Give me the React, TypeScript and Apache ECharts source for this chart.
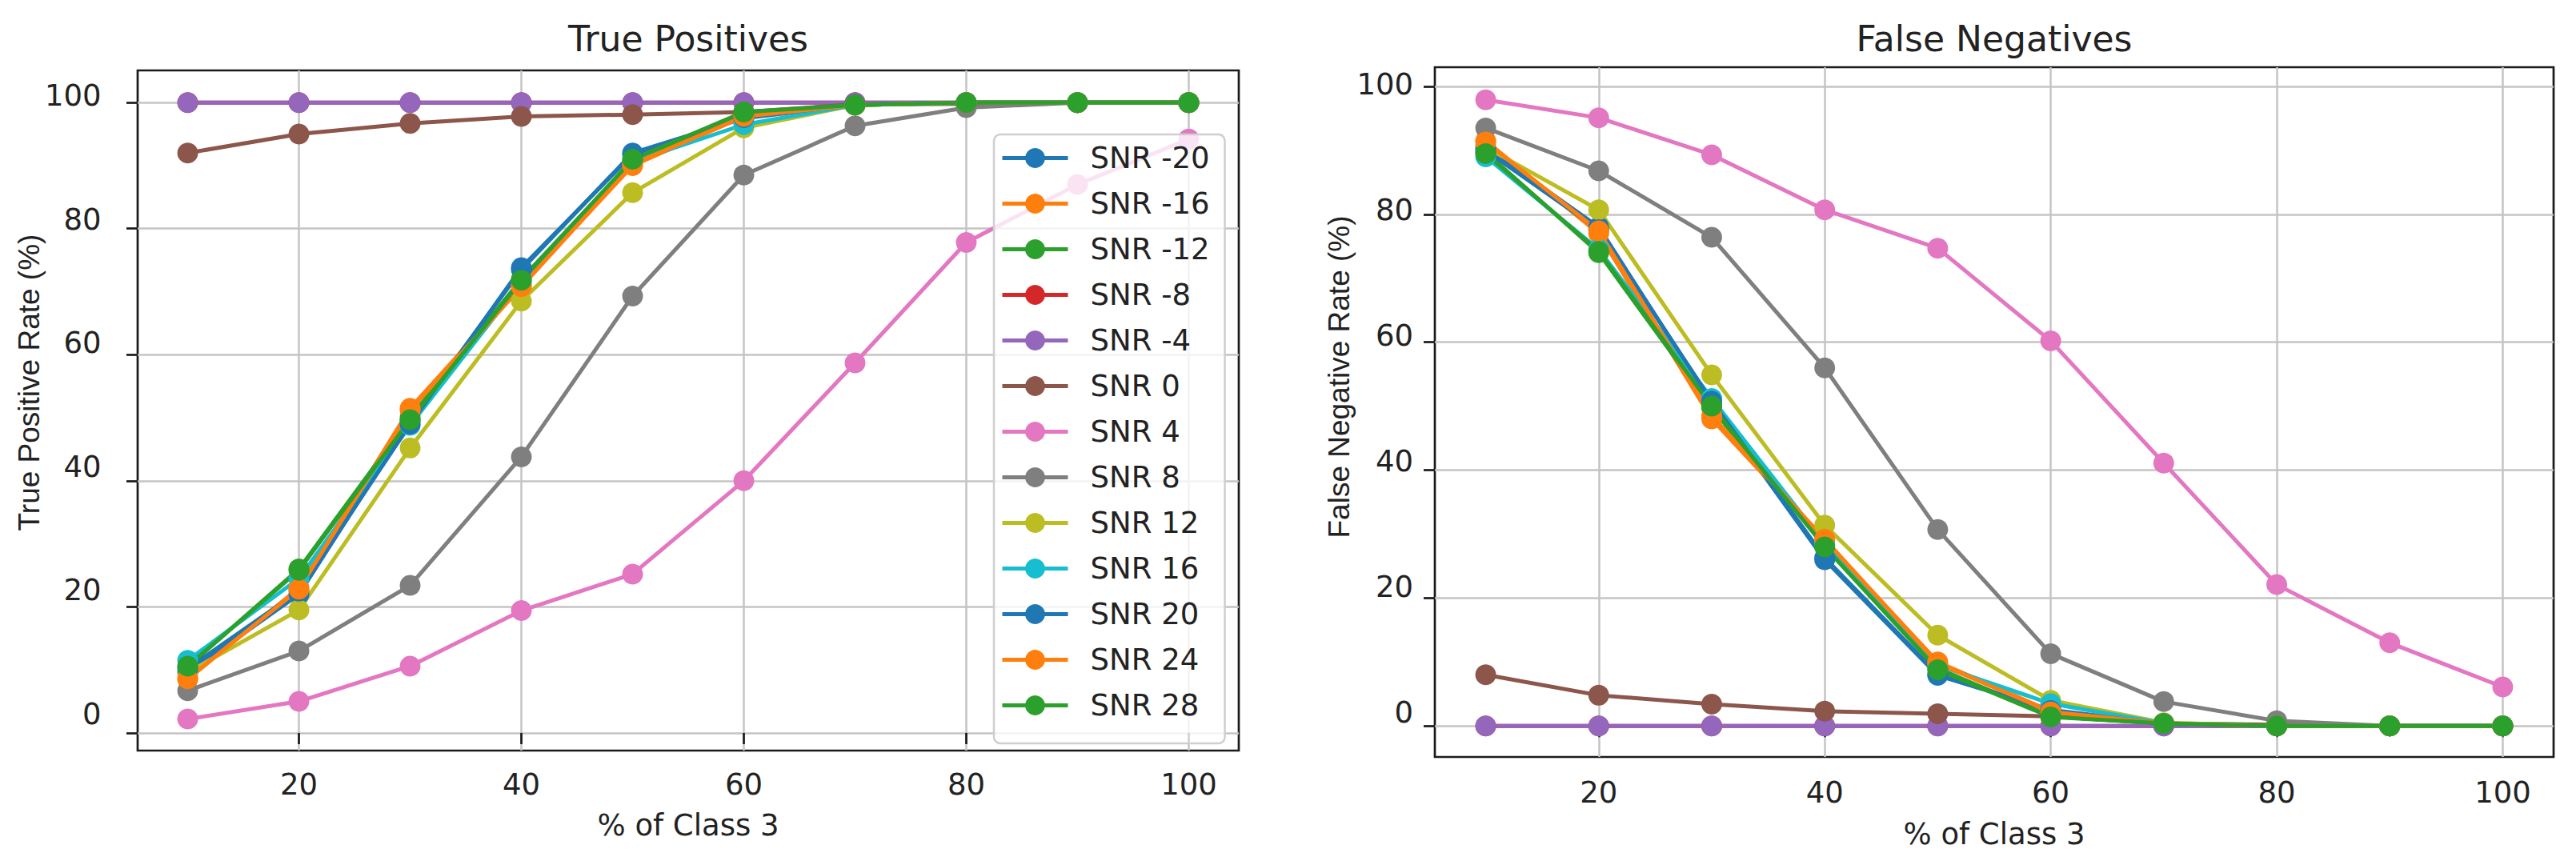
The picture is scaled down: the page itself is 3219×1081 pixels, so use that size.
import React, { useEffect, useRef } from "react";
import * as echarts from "echarts";

// ---- data ----
const xValues = [10, 20, 30, 40, 50, 60, 70, 80, 90, 100];
const xTickValues = [20, 40, 60, 80, 100];
const yTickValues = [0, 20, 40, 60, 80, 100];

const snrNames = [
  "SNR -20", "SNR -16", "SNR -12", "SNR -8", "SNR -4", "SNR 0", "SNR 4",
  "SNR 8", "SNR 12", "SNR 16", "SNR 20", "SNR 24", "SNR 28",
];

const colors = [
  "#1f77b4", "#ff7f0e", "#2ca02c", "#d62728", "#9467bd", "#8c564b", "#e377c2",
  "#7f7f7f", "#bcbd22", "#17becf", "#1f77b4", "#ff7f0e", "#2ca02c",
];

// True positive rate (%)
const tpM20 = [9.5, 22.0, 49.5, 73.5, 92.0, 97.5, 99.6, 100, 100, 100];
const tpM16 = [8.5, 23.0, 51.5, 71.0, 90.0, 97.8, 99.6, 100, 100, 100];
const tpM12 = [10.5, 26.0, 50.0, 72.0, 90.8, 98.4, 99.6, 100, 100, 100];
const tpM8 = [100, 100, 100, 100, 100, 100, 100, 100, 100, 100];
const tpM4 = [100, 100, 100, 100, 100, 100, 100, 100, 100, 100];
const tp0 = [92.0, 95.0, 96.7, 97.8, 98.1, 98.5, 99.7, 99.8, 100, 100];
const tp4 = [2.2, 5.0, 10.6, 19.4, 25.2, 40.0, 58.7, 77.8, 87.0, 94.2];
const tp8 = [6.7, 13.0, 23.4, 43.8, 69.3, 88.5, 96.3, 99.2, 100, 100];
const tp12 = [9.6, 19.5, 45.2, 68.5, 85.7, 96.0, 99.6, 100, 100, 100];
const tp16 = [11.5, 24.5, 48.8, 71.5, 90.6, 96.5, 99.6, 100, 100, 100];
const tp20 = [10.2, 22.5, 49.0, 73.8, 91.8, 97.6, 99.7, 100, 100, 100];
const tp24 = [8.6, 22.8, 51.2, 70.8, 90.2, 97.8, 99.6, 100, 100, 100];
const tp28 = [10.6, 25.8, 49.7, 71.8, 91.0, 98.5, 99.6, 100, 100, 100];

// False negative rate (%)
const fnM20 = [90.5, 78.0, 50.5, 26.0, 7.9, 2.5, 0.4, 0, 0, 0];
const fnM16 = [91.5, 77.0, 48.0, 29.0, 10.0, 2.3, 0.4, 0, 0, 0];
const fnM12 = [89.7, 74.0, 49.7, 28.2, 9.0, 1.5, 0.4, 0, 0, 0];
const fnM8 = [0, 0, 0, 0, 0, 0, 0, 0, 0, 0];
const fnM4 = [0, 0, 0, 0, 0, 0, 0, 0, 0, 0];
const fn0 = [8.0, 4.8, 3.4, 2.3, 1.9, 1.5, 0.4, 0.2, 0, 0];
const fn4 = [97.9, 95.1, 89.3, 80.7, 74.7, 60.2, 41.1, 22.1, 13.0, 6.1];
const fn8 = [93.5, 86.8, 76.4, 56.0, 30.7, 11.3, 3.8, 0.8, 0, 0];
const fn12 = [90.5, 80.7, 54.9, 31.4, 14.2, 4.0, 0.5, 0, 0, 0];
const fn16 = [89.0, 74.5, 51.2, 28.5, 9.5, 3.5, 0.4, 0, 0, 0];
const fn20 = [90.0, 77.6, 50.8, 26.3, 8.1, 2.4, 0.3, 0, 0, 0];
const fn24 = [91.3, 77.4, 48.5, 29.2, 9.8, 2.2, 0.4, 0, 0, 0];
const fn28 = [89.5, 74.2, 50.0, 28.0, 8.8, 1.4, 0.4, 0, 0, 0];

const tpSeries = [tpM20, tpM16, tpM12, tpM8, tpM4, tp0, tp4, tp8, tp12, tp16, tp20, tp24, tp28];
const fnSeries = [fnM20, fnM16, fnM12, fnM8, fnM4, fn0, fn4, fn8, fn12, fn16, fn20, fn24, fn28];

const FONT = "DejaVu Sans";
const TEXT = "#222222";

function makeX(gridIndex: number, margin: number) {
  return {
    type: "value",
    gridIndex,
    min: 5.5,
    max: 104.5,
    axisLine: { show: false },
    axisTick: {
      show: true,
      customValues: xTickValues,
      length: 14,
      lineStyle: { color: "#1a1a1a", width: 2.7 },
    },
    axisLabel: {
      customValues: xTickValues,
      margin,
      fontSize: 37,
      fontFamily: FONT,
      color: TEXT,
    },
    splitLine: { show: true, lineStyle: { color: "#c4c4c4", width: 2.5 } },
  };
}

function makeYMain(gridIndex: number, min: number, max: number) {
  return {
    type: "value",
    gridIndex,
    min,
    max,
    position: "left",
    axisLine: { show: false },
    axisTick: {
      show: true,
      customValues: yTickValues,
      length: 14,
      lineStyle: { color: "#1a1a1a", width: 2.7 },
    },
    axisLabel: { show: false },
    splitLine: { show: true, lineStyle: { color: "#c4c4c4", width: 2.5 } },
  };
}

function makeYLabels(gridIndex: number, min: number, max: number, margin: number) {
  return {
    type: "value",
    gridIndex,
    min,
    max,
    position: "left",
    axisLine: { show: false },
    axisTick: { show: false },
    splitLine: { show: false },
    axisLabel: {
      customValues: yTickValues,
      margin,
      fontSize: 37,
      fontFamily: FONT,
      color: TEXT,
    },
  };
}

function makeSeries(values: number[][], xAxisIndex: number, yAxisIndex: number) {
  return snrNames.map((name, i) => ({
    type: "line",
    name,
    xAxisIndex,
    yAxisIndex,
    data: xValues.map((x, j) => [x, values[i][j]]),
    symbol: "circle",
    symbolSize: 26,
    showSymbol: true,
    lineStyle: { width: 5, color: colors[i] },
    itemStyle: { color: colors[i], borderWidth: 0 },
    emphasis: { disabled: true },
    silent: true,
  }));
}

function textEl(text: string, x: number, y: number, size: number, family: string, rotation = 0) {
  return {
    type: "text",
    x,
    y,
    rotation,
    silent: true,
    style: {
      text,
      font: `${size}px "${family}"`,
      fill: TEXT,
      align: "center",
      verticalAlign: "middle",
      textAlign: "center",
      textVerticalAlign: "middle",
    },
  };
}

export default function App() {
  const ref = useRef<HTMLDivElement>(null);

  useEffect(() => {
    document.body.style.margin = "0";
    if (!ref.current) return;
    const chart = echarts.init(ref.current, undefined, { renderer: "svg" });
    const option: any = {
      animation: false,
      backgroundColor: "#ffffff",
      grid: [
        {
          left: 172, top: 88, width: 1376, height: 850,
          show: true, borderColor: "#1a1a1a", borderWidth: 2.7,
          backgroundColor: "transparent", containLabel: false, outerBoundsMode: "none",
        },
        {
          left: 1793, top: 84, width: 1398, height: 862,
          show: true, borderColor: "#1a1a1a", borderWidth: 2.7,
          backgroundColor: "transparent", containLabel: false, outerBoundsMode: "none",
        },
      ],
      xAxis: [makeX(0, 24), makeX(1, 25.5)],
      yAxis: [
        makeYMain(0, -2.8, 105.1),
        makeYLabels(0, -5.95, 104.08, 45.5),
        makeYMain(1, -4.85, 103),
        makeYLabels(1, -7.13, 102.68, 27),
      ],
      legend: {
        show: true,
        orient: "vertical",
        left: 1242,
        top: 168,
        padding: [11, 19, 29, 8],
        itemWidth: 82,
        itemHeight: 31,
        itemGap: 20,
        backgroundColor: "rgba(255,255,255,0.8)",
        borderColor: "#cfcfcf",
        borderWidth: 2.5,
        borderRadius: 8,
        selectedMode: false,
        data: snrNames,
        lineStyle: { width: 5 },
        textStyle: {
          fontSize: 37,
          fontFamily: FONT,
          color: TEXT,
          padding: [0, 0, 0, 23],
        },
      },
      graphic: [
        textEl("True Positives", 860, 48, 44, FONT),
        textEl("False Negatives", 2492, 48, 44, FONT),
        textEl("% of Class 3", 860, 1031, 37, FONT),
        textEl("% of Class 3", 2492, 1042, 37, FONT),
        textEl("True Positive Rate (%)", 36, 478, 37, "Liberation Sans", Math.PI / 2),
        textEl("False Negative Rate (%)", 1673, 471, 37, "Liberation Sans", Math.PI / 2),
      ],
      series: [...makeSeries(tpSeries, 0, 0), ...makeSeries(fnSeries, 1, 2)],
    };
    chart.setOption(option);
    return () => chart.dispose();
  }, []);

  return <div ref={ref} style={{ width: 3219, height: 1081 }} />;
}
